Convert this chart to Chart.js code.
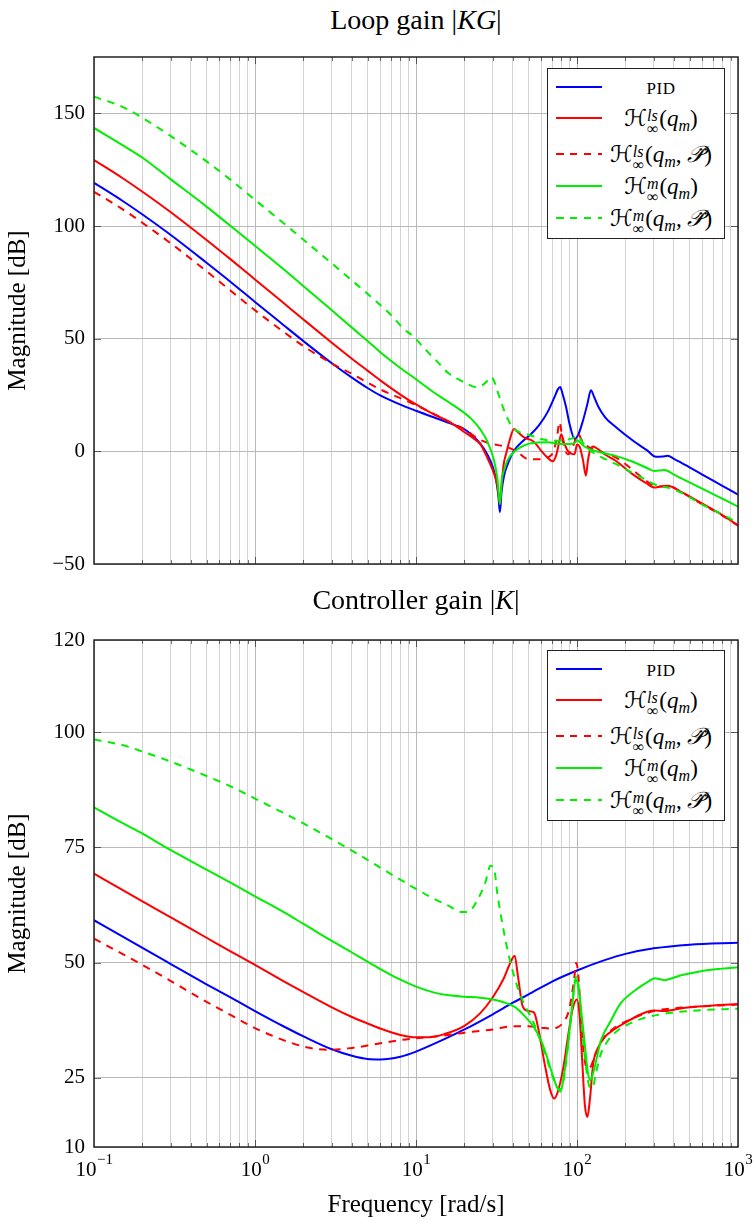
<!DOCTYPE html>
<html>
<head>
<meta charset="utf-8">
<script src="https://cdn.jsdelivr.net/npm/chart.js@4.4.1/dist/chart.umd.min.js"></script>
<style>
  html, body { margin: 0; padding: 0; background: #fff; }
  #page { position: relative; width: 755px; height: 1222px; overflow: hidden;
          font-family: "Liberation Serif", "DejaVu Serif", serif; color: #000; }
  canvas { position: absolute; left: 0; }
  .title { position: absolute; left: 94px; width: 644px; text-align: center;
           font-size: 28px; line-height: 32px; white-space: nowrap; }
  .legend { position: absolute; left: 547px; width: 176px; height: 169px;
            border: 1px solid #222; background: #fff; }
  .row { position: absolute; left: 0; width: 100%; height: 0; }
  .swatch { position: absolute; left: 8px; width: 46px; height: 2px; top: -1px; }
  .lab { position: absolute; left: 56px; width: 114px; top: -17px; height: 34px; line-height: 34px;
         text-align: center; font-size: 23px; white-space: nowrap; }
  .pid { font-size: 17px; letter-spacing: 0.6px; }
  .cal { font-family: "DejaVu Serif", "DejaVu Sans", serif; font-style: italic; font-size: 23px; }
  .scr { display: inline-block; vertical-align: -8px; line-height: 13px; font-size: 16px;
         font-style: italic; text-align: left; margin-right: 1px; }
  .scr span { display: block; }
  .scr .sb { font-style: normal; }
  .par i { font-style: italic; }
  .par sub { font-size: 16px; vertical-align: -5px; line-height: 0; }
  .dd { font-family: "DejaVu Sans", serif; font-style: italic; }
</style>
</head>
<body>
<div id="page">
  <div class="title" style="top:4px">Loop gain |<i>K</i><i>G</i>|</div>
  <canvas id="loop" width="755" height="590" style="top:0"></canvas>
  <div class="title" style="top:584px">Controller gain |<i>K</i>|</div>
  <canvas id="ctrl" width="755" height="632" style="top:590px"></canvas>
</div>
<script>
// ---- axis ticks ----
const X_GRID = [0.1,0.2,0.3,0.4,0.5,0.6,0.7,0.8,0.9,1,2,3,4,5,6,7,8,9,10,20,30,40,50,60,70,80,90,100,200,300,400,500,600,700,800,900,1000];
const X_DECADES = [0.1, 1, 10, 100, 1000];
const X_TICK_EXPONENTS = ['−1', '0', '1', '2', '3'];
const LOOP_Y_TICKS = [-50, 0, 50, 100, 150];
const LOOP_Y_LABELS = ['−50', '0', '50', '100', '150'];
const CTRL_Y_TICKS = [10, 25, 50, 75, 100, 120];
const CTRL_Y_LABELS = ['10', '25', '50', '75', '100', '120'];

// ---- loop gain |KG| [dB] ----
const LOOP_PID_F = [0.1,0.15,0.2,0.3,0.5,0.7,1,1.5,2,3,4,5,6,8,10,13,16,20,22,25,27.7,30,31.5,32.5,33.2,34,35.2,37,40.6,46,51.7,58,65.8,72.5,76,78.6,81,85.5,90,96.6,102,109,116,122,128,136,150,174,220,274,309,340,366,400,443,600,800,1000];
const LOOP_PID = [119.2,111.2,105.1,96.0,83.7,75.4,66.3,56.1,48.9,39.1,32.7,28.1,24.8,20.7,18.0,15.0,12.6,9.8,7.5,3.5,-1.3,-7,-13,-20,-27,-18,-11,-6,0.3,4.5,7.6,11.5,17.5,24.1,27.5,28.6,26,19.7,12,5.5,7.5,13.7,21,27.1,24,19.7,15,10.8,5,0.3,-2.4,-2.3,-2,-3.3,-5,-10.3,-15.3,-19.2];

const LOOP_LS_F = [0.1,0.15,0.2,0.3,0.5,0.7,1,1.5,2,3,4,5,6,8,10,13,16,20,23,25.2,27.7,30,31.5,32.5,33.2,34,35,36.2,38,40.6,43,46.9,52.9,56,59.8,65,70.7,74,77,79.8,83,87.4,92,96.6,100,104,109,113.6,117,120.4,126,135,150,174,220,274,302,330,366,443,600,800,1000];
const LOOP_LS = [129.3,121.3,115.2,106.1,93.8,85.4,76.3,65.9,58.5,48.2,41.1,35.8,31.5,25.2,20.8,16.3,13.2,8.5,5.5,3,-2.8,-8.5,-13,-18.5,-23.5,-15,-6,-1.3,4.5,9.9,8.5,6.2,4.7,3,0.3,-2.5,-4.4,-2,3,7.6,4,0.3,-1,-1.3,3,2,-4,-10.8,-4,0.3,2.2,1,-1.5,-4.2,-10,-14.5,-16.1,-15.6,-15.3,-18,-23.2,-28.3,-32.8];

const LOOP_LSP_F = [0.1,0.15,0.2,0.3,0.5,0.7,1,1.5,2,3,4,5,6,8,10,13,16,20,25.2,30,37.1,43,49.3,56,65.8,71,75,77.9,81,84,87.4,92,97,101.6,107,112,120,135,150,174,220,274,302,330,366,443,600,800,1000];
const LOOP_LSP = [115.2,107.5,101.4,92.3,79.9,71.5,62.6,53.1,46.7,39.0,34.4,30.5,27.5,23.6,20.5,16.5,13.2,9.8,5.0,3.2,1.8,-0.5,-3.4,-3.5,-2.7,-0.5,6,13,6,1,-1.3,0,4.5,7.8,5,3.2,1.5,0.5,-1,-2.7,-8,-13.5,-15.3,-15.6,-15.3,-18,-23.5,-28.5,-33];

const LOOP_M_F = [0.1,0.15,0.2,0.3,0.5,0.7,1,1.5,2,3,4,5,6,8,10,13,16,20,22,25.2,27.7,30.5,32,33.2,34.2,35.2,37,40.6,45,49.3,55,65.8,75,83.5,91.8,97,100.6,106,113,125,150,174,220,274,302,330,350,400,500,700,1000];
const LOOP_M = [143.5,135.9,130.3,120.7,108.6,100.2,91.2,80.9,73.3,62.6,54.9,49.0,44.0,37.0,32.0,26.0,21.8,17.0,14.5,9.5,4.5,-4,-12,-23.5,-12,-8.5,-4,-0.3,2,3.2,3.8,4,3.4,3.2,3.2,3.8,4.8,3.5,1.8,0.5,-1,-2,-4.5,-7.5,-8.7,-8.5,-8.3,-10.3,-13.8,-19.0,-24.5];

const LOOP_MP_F = [0.1,0.15,0.2,0.3,0.5,0.7,1,1.5,2,3,4,5,7,8.36,9.65,11.5,13.6,16,18.9,21,23.5,25.7,27.5,29,30.2,31.9,34.5,37.1,40.6,44,49.3,60,72.5,85,95,101.6,106,112,120,136,150,174,220,274,302,330,366,443,600,800,1000];
const LOOP_MP = [157.4,152.9,148.0,139.9,128.7,120.7,111.6,101.3,93.9,83.4,75.8,69.9,60.5,54.5,50.9,45,39.7,34.5,31.5,29.8,28.5,29.3,31,33,32,27.2,20,14.4,9.9,8.5,7.5,5.5,4.7,5,6,7,5,2.5,0.5,-2,-3.5,-5.6,-9.5,-13,-14.6,-15.5,-16.1,-18.3,-23.6,-28,-31.8];

// ---- controller gain |K| [dB] ----
const CTRL_PID_F = [0.1,0.15,0.2,0.3,0.5,0.7,1,1.5,2,3,4,5,6,8,10,15,20,30,40,50,70,100,150,200,300,500,1000];
const CTRL_PID = [59.2,55.7,53.2,49.7,45.3,42.5,39.5,36.2,34.0,31.2,29.8,29.1,29.0,29.6,30.7,33.4,35.5,38.8,41.3,43.1,45.9,48.3,50.6,51.9,53.1,53.9,54.3];

const CTRL_LS_F = [0.1,0.15,0.2,0.3,0.5,0.7,1,1.5,2,3,4,5,6,8,10,12,15,20,25,30,35,38,41,43,46,50,54,58,63,68,72,76,82,88,94,100,104,108,112,116,120,126,135,150,170,200,250,300,350,400,500,700,1000];
const CTRL_LS = [69.3,65.8,63.3,59.8,55.4,52.5,49.5,46.0,43.6,40.3,38.2,36.8,35.7,34.3,33.8,33.8,34.5,36.3,39.0,42.5,46.5,49.5,51.5,47,40.5,39.5,39.2,35,28,22.5,20.5,22,27,34,40,42,38,28,19,16.5,20,28,31.5,34,35.5,37,38.8,39.6,39.5,39.8,40.3,40.7,41.0];

const CTRL_LSP_F = [0.1,0.15,0.2,0.3,0.5,0.7,1,1.5,2,2.5,3,4,5,6,8,10,15,20,30,40,50,60,70,76,82,88,92,96,99,102,106,110,116,122,130,145,170,200,300,400,600,1000];
const CTRL_LSP = [55.2,51.9,49.5,46.0,41.5,38.7,35.8,33.2,31.8,31.2,31.1,31.5,32.0,32.5,33.2,33.6,34.2,34.8,35.5,36.2,36.2,35.9,35.7,36.0,37.0,39,42,46.5,50,47,38,30.5,27,27.5,30,33.5,35.8,37.2,39.5,40.1,40.5,40.9];

const CTRL_M_F = [0.1,0.15,0.2,0.3,0.5,0.7,1,1.5,2,3,4,5,6,8,10,13,16,20,25,30,35,41,47,54,60,65,70,75,79,83,88,93,98,101,106,112,117,121,127,135,141,160,187,230,280,305,330,350,380,450,600,800,1000];
const CTRL_M = [83.7,80.3,78.0,74.4,70.2,67.4,64.4,61.0,58.4,54.7,52.2,50.2,48.6,46.3,44.8,43.5,42.9,42.6,42.4,42.0,41.4,40.4,38.5,36,33,29.6,26,23,22,25.5,32.5,40,46.3,45.5,39.8,32,26,24.5,26.5,30.5,33.2,37,41.2,44,46,46.6,46.4,46.2,46.5,47.3,48.2,48.7,49.0];

const CTRL_MP_F = [0.1,0.15,0.2,0.3,0.5,0.7,1,1.5,2,3,4,5,7,10,13,16,19,21,24,27,29,30.5,32,35,38,42,47,53,60,68,75,79,83,88,93,97,100,103,108,114,120,125,131,140,155,175,200,250,300,400,600,1000];
const CTRL_MP = [98.4,97.2,95.8,93.6,90.5,88.3,85.6,82.5,80.2,76.8,74.3,72.3,69.2,66.0,63.8,62.3,61.0,61.0,63.5,67.5,71.0,70.5,65,57,51,45.5,41,37.5,32.5,27,23,22.5,25,32,40,46,47,44,35,27,23,22.8,26,30,33,35,36.3,37.8,38.5,39.2,39.7,40.0];

// ---- series styling ----
const SERIES_COLORS = ['#0000ff', '#ff0000', '#ff0000', '#00ee00', '#00ee00'];
const SERIES_DASHED = [false, false, true, false, true];
const DASH = [7.5, 6.5];
const PDD = '<span class="dd">𝒫̈</span>';
const SERIES_LABELS = [
  '<span class="pid">PID</span>',
  '<span class="cal">ℋ</span><span class="scr"><span>ls</span><span class="sb">∞</span></span><span class="par">(<i>q</i><sub><i>m</i></sub>)</span>',
  '<span class="cal">ℋ</span><span class="scr"><span>ls</span><span class="sb">∞</span></span><span class="par">(<i>q</i><sub><i>m</i></sub>, ' + PDD + ')</span>',
  '<span class="cal">ℋ</span><span class="scr"><span>m</span><span class="sb">∞</span></span><span class="par">(<i>q</i><sub><i>m</i></sub>)</span>',
  '<span class="cal">ℋ</span><span class="scr"><span>m</span><span class="sb">∞</span></span><span class="par">(<i>q</i><sub><i>m</i></sub>, ' + PDD + ')</span>'
];
const LEGEND_ROWS = [18, 49, 85, 117, 149];

const FONT = '"Liberation Serif", "DejaVu Serif", serif';

function points(fs, vs) { return fs.map((f, i) => ({ x: f, y: vs[i] })); }

function datasets(pairs) {
  return pairs.map(([fs, vs], i) => ({
    data: points(fs, vs),
    borderColor: SERIES_COLORS[i],
    borderWidth: 2,
    borderDash: SERIES_DASHED[i] ? DASH : [],
    pointRadius: 0,
    fill: false,
    cubicInterpolationMode: 'monotone',
    order: pairs.length - i
  }));
}

const isDecade = v => X_DECADES.some(d => Math.abs(d - v) < 1e-9);

// frame around the plot area plus short inward tick marks
const frameTicks = {
  id: 'frameTicks',
  afterDatasetsDraw(chart) {
    const { ctx, chartArea: a, scales: { x, y } } = chart;
    ctx.save();
    ctx.strokeStyle = 'rgba(0,0,0,0.55)';
    ctx.lineWidth = 1;
    ctx.beginPath();
    x.ticks.forEach(t => {
      const px = Math.round(x.getPixelForValue(t.value)) + 0.5;
      if (px <= a.left + 1 || px >= a.right - 1) return;
      const len = isDecade(t.value) ? 7 : 4;
      ctx.moveTo(px, a.bottom); ctx.lineTo(px, a.bottom - len);
      ctx.moveTo(px, a.top); ctx.lineTo(px, a.top + len);
    });
    y.ticks.forEach(t => {
      const py = Math.round(y.getPixelForValue(t.value)) + 0.5;
      if (py <= a.top + 1 || py >= a.bottom - 1) return;
      ctx.moveTo(a.left, py); ctx.lineTo(a.left + 7, py);
      ctx.moveTo(a.right, py); ctx.lineTo(a.right - 7, py);
    });
    ctx.stroke();
    ctx.strokeStyle = '#222';
    ctx.lineWidth = 1.5;
    ctx.strokeRect(a.left, a.top, a.right - a.left, a.bottom - a.top);
    ctx.restore();
  }
};

// decade labels 10^n under the frequency axis, with a raised exponent
const decadeLabels = {
  id: 'decadeLabels',
  afterDraw(chart, args, opts) {
    if (!opts.show) return;
    const { ctx, chartArea: a, scales: { x } } = chart;
    ctx.save();
    ctx.fillStyle = '#000';
    ctx.textBaseline = 'alphabetic';
    ctx.textAlign = 'left';
    X_DECADES.forEach((v, k) => {
      const px = x.getPixelForValue(v);
      ctx.font = `21px ${FONT}`;
      const w1 = ctx.measureText('10').width;
      ctx.font = `15px ${FONT}`;
      const w2 = ctx.measureText(X_TICK_EXPONENTS[k]).width;
      const x0 = px - (w1 + w2) / 2;
      ctx.font = `21px ${FONT}`;
      ctx.fillText('10', x0, a.bottom + 29);
      ctx.font = `15px ${FONT}`;
      ctx.fillText(X_TICK_EXPONENTS[k], x0 + w1 + 0.5, a.bottom + 17);
    });
    ctx.restore();
  }
};

function makeChart(id, pairs, cfg) {
  return new Chart(document.getElementById(id), {
    type: 'line',
    data: { datasets: datasets(pairs) },
    plugins: [frameTicks, decadeLabels],
    options: {
      responsive: false,
      animation: false,
      devicePixelRatio: 1,
      events: [],
      layout: { padding: { left: 0, right: 17, top: cfg.padTop, bottom: 0 } },
      plugins: {
        legend: { display: false },
        tooltip: { enabled: false },
        title: { display: false },
        decadeLabels: { show: cfg.xLabels }
      },
      scales: {
        x: {
          type: 'logarithmic',
          min: 0.1, max: 1000,
          afterBuildTicks: s => { s.ticks = X_GRID.map(v => ({ value: v })); },
          afterFit: s => { s.height = cfg.xHeight; s.paddingLeft = 0; s.paddingRight = 0; },
          border: { display: false },
          grid: {
            drawTicks: false,
            lineWidth: 1,
            color: ctx => (ctx.tick && isDecade(ctx.tick.value)) ? '#b9b9b9' : '#d3d3d3'
          },
          ticks: { display: false },
          title: {
            display: cfg.xLabels,
            text: 'Frequency [rad/s]',
            color: '#000',
            font: { family: FONT, size: 25 },
            padding: { top: 0, bottom: 2 }
          }
        },
        y: {
          type: 'linear',
          min: cfg.yMin, max: cfg.yMax,
          afterBuildTicks: s => { s.ticks = cfg.yTicks.map(v => ({ value: v })); },
          afterFit: s => { s.width = 94; },
          border: { display: false },
          grid: { drawTicks: false, lineWidth: 1, color: '#b9b9b9' },
          ticks: {
            padding: 9,
            color: '#000',
            font: { family: FONT, size: 21 },
            callback: v => {
              const k = cfg.yTicks.indexOf(v);
              return k >= 0 ? cfg.yLabels[k] : '';
            }
          },
          title: {
            display: true,
            text: 'Magnitude [dB]',
            color: '#000',
            font: { family: FONT, size: 25 },
            padding: { top: 3, bottom: 0 }
          }
        }
      }
    }
  });
}

makeChart('loop', [
  [LOOP_PID_F, LOOP_PID], [LOOP_LS_F, LOOP_LS], [LOOP_LSP_F, LOOP_LSP],
  [LOOP_M_F, LOOP_M], [LOOP_MP_F, LOOP_MP]
], { padTop: 57, xHeight: 26, xLabels: false, yMin: -50, yMax: 175, yTicks: LOOP_Y_TICKS, yLabels: LOOP_Y_LABELS });

makeChart('ctrl', [
  [CTRL_PID_F, CTRL_PID], [CTRL_LS_F, CTRL_LS], [CTRL_LSP_F, CTRL_LSP],
  [CTRL_M_F, CTRL_M], [CTRL_MP_F, CTRL_MP]
], { padTop: 50, xHeight: 75, xLabels: true, yMin: 10, yMax: 120, yTicks: CTRL_Y_TICKS, yLabels: CTRL_Y_LABELS });

// legends drawn as HTML boxes inside the upper-right corner of each plot
function buildLegend(top) {
  const box = document.createElement('div');
  box.className = 'legend';
  box.style.top = top + 'px';
  SERIES_LABELS.forEach((html, i) => {
    const row = document.createElement('div');
    row.className = 'row';
    row.style.top = LEGEND_ROWS[i] + 'px';
    const sw = document.createElement('div');
    sw.className = 'swatch';
    const c = SERIES_COLORS[i];
    sw.style.background = SERIES_DASHED[i]
      ? `repeating-linear-gradient(to right, ${c} 0 ${DASH[0]}px, transparent ${DASH[0]}px ${DASH[0] + DASH[1]}px)`
      : c;
    const lab = document.createElement('div');
    lab.className = 'lab';
    lab.innerHTML = html;
    row.appendChild(sw);
    row.appendChild(lab);
    box.appendChild(row);
  });
  document.getElementById('page').appendChild(box);
}
buildLegend(68);
buildLegend(650);
</script>
</body>
</html>
